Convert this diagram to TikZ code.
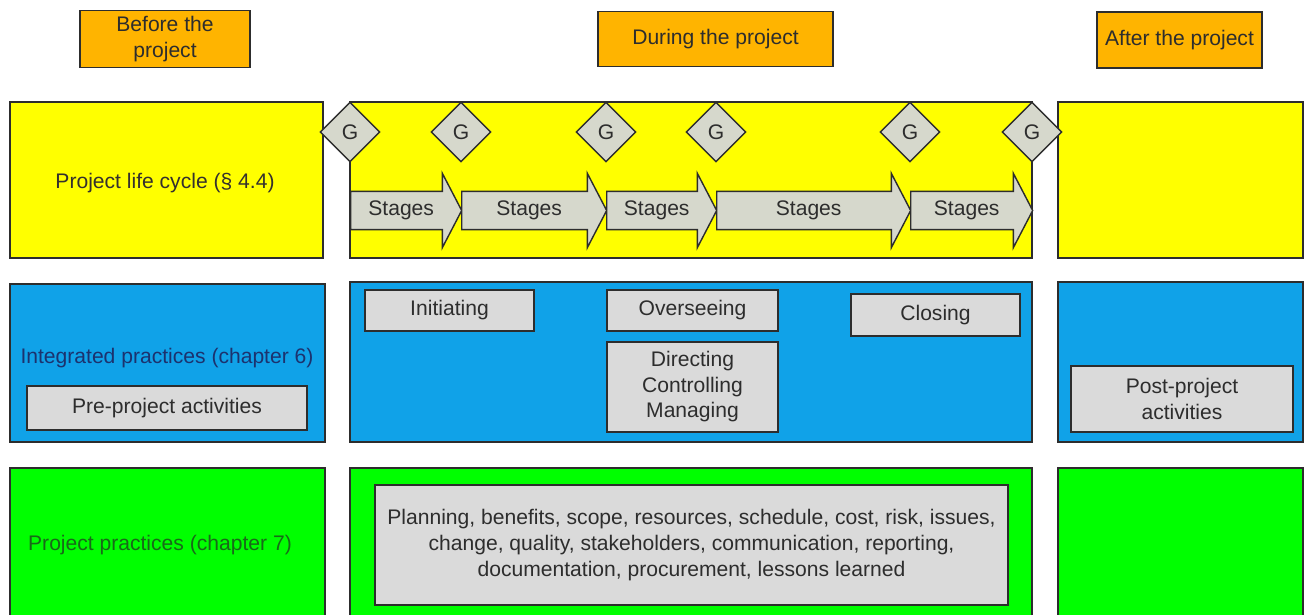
\documentclass[tikz,border=0pt]{standalone}
\usepackage{fontspec}
\setmainfont{Liberation Sans}
\usepackage{xcolor}
\usepackage{tikz}
\usetikzlibrary{shapes.geometric, shapes.arrows, positioning}

\definecolor{phaseorange}{RGB}{255,180,0}
\definecolor{cycleyellow}{RGB}{255,255,0}
\definecolor{practiceblue}{RGB}{16,162,232}
\definecolor{projectgreen}{RGB}{0,255,0}
\definecolor{boxgrey}{RGB}{218,218,218}
\definecolor{gategrey}{RGB}{214,216,204}
\definecolor{edgegrey}{RGB}{45,45,45}
\definecolor{labelnavy}{RGB}{28,50,110}
\definecolor{labelgreen}{RGB}{25,105,25}

\begin{document}
\begin{tikzpicture}[x=0.02cm, y=-0.02cm, every node/.style={font=\fontsize{12}{14.5}\selectfont, text=edgegrey}, align=center,
  band/.style={draw=edgegrey, line width=0.8pt, rectangle, inner sep=0pt},
  phase/.style={band, fill=phaseorange},
  activity/.style={band, fill=boxgrey},
  gate/.style={diamond, aspect=1, draw=edgegrey, line width=0.8pt, fill=gategrey, minimum size=1.2cm, inner sep=0pt},
  stagearrow/.style={single arrow, draw=edgegrey, line width=0.8pt, fill=gategrey, single arrow head extend=0.36cm,
    single arrow tip angle=125, text height=0.3cm, text depth=0.08cm, inner ysep=0.18cm, inner xsep=0pt, anchor=tail}]
  \useasboundingbox [fill=white] (0,0) rectangle (1309,615);

  \node (before) [phase, minimum width=3.4cm, minimum height=1.14cm] at (165,39) {Before the\\project};
  \node (during) [phase, minimum width=4.7cm, minimum height=1.1cm] at (715.5,39) {During the project};
  \node (after) [phase, minimum width=3.3cm, minimum height=1.12cm] at (1179.5,40) {After the project};

  \node (lcleft) [band, fill=cycleyellow, minimum width=6.26cm, minimum height=3.12cm] at (166.5,180) {};
  \node (lcmid) [band, fill=cycleyellow, minimum width=13.64cm, minimum height=3.12cm] at (691,180) {};
  \node (lcright) [band, fill=cycleyellow, minimum width=4.9cm, minimum height=3.12cm] at (1180.5,180) {};
  \node (lclabel) [text=black!80!yellow!40!black] at (165,183) {Project life cycle (\S{} 4.4)};

  \node (st1) [stagearrow, minimum height=2.22cm] at (350,210.5) {Stages};
  \node (st2) [stagearrow, minimum height=2.9cm] at (461,210.5) {Stages};
  \node (st3) [stagearrow, minimum height=2.2cm] at (606,210.5) {Stages};
  \node (st4) [stagearrow, minimum height=3.88cm] at (716,210.5) {Stages};
  \node (st5) [stagearrow, minimum height=2.44cm] at (910,210.5) {Stages};

  \node (g1) [gate] at (350,132) {G};
  \node (g2) [gate] at (461,132) {G};
  \node (g3) [gate] at (606,132) {G};
  \node (g4) [gate] at (716,132) {G};
  \node (g5) [gate] at (910,132) {G};
  \node (g6) [gate] at (1032,132) {G};

  \node (ipleft) [band, fill=practiceblue, minimum width=6.3cm, minimum height=3.16cm] at (167.5,363) {};
  \node (ipmid) [band, fill=practiceblue, minimum width=13.64cm, minimum height=3.2cm] at (691,362) {};
  \node (ipright) [band, fill=practiceblue, minimum width=4.9cm, minimum height=3.2cm] at (1180.5,362) {};
  \node (iplabel) [text=labelnavy] at (167,358) {Integrated practices (chapter 6)};

  \node (preproj) [activity, minimum width=5.6cm, minimum height=0.88cm] at (167,408) {Pre-project activities};
  \node (initiating) [activity, minimum width=3.38cm, minimum height=0.82cm] at (449.5,310.5) {Initiating};
  \node (overseeing) [activity, minimum width=3.42cm, minimum height=0.82cm] at (692.5,310.5) {Overseeing};
  \node (closing) [activity, minimum width=3.38cm, minimum height=0.84cm] at (935.5,315) {Closing};
  \node (directing) [activity, minimum width=3.42cm, minimum height=1.8cm] at (692.5,387) {Directing\\Controlling\\Managing};
  \node (postproj) [activity, minimum width=4.44cm, minimum height=1.32cm] at (1182,399) {Post-project\\activities};

  \node (ppleft) [band, fill=projectgreen, minimum width=6.3cm, minimum height=2.96cm] at (167.5,542) {};
  \node (ppmid) [band, fill=projectgreen, minimum width=13.64cm, minimum height=2.96cm] at (691,542) {};
  \node (ppright) [band, fill=projectgreen, minimum width=4.9cm, minimum height=2.96cm] at (1180.5,542) {};
  \node (pplabel) [text=labelgreen] at (160,545) {Project practices (chapter 7)};

  \node (planning) [activity, minimum width=12.66cm, minimum height=2.4cm, font=\fontsize{12}{14.8}\selectfont] at (691.5,545)
    {Planning, benefits, scope, resources, schedule, cost, risk, issues,\\change, quality, stakeholders, communication, reporting,\\documentation, procurement, lessons learned};
\end{tikzpicture}
\end{document}
